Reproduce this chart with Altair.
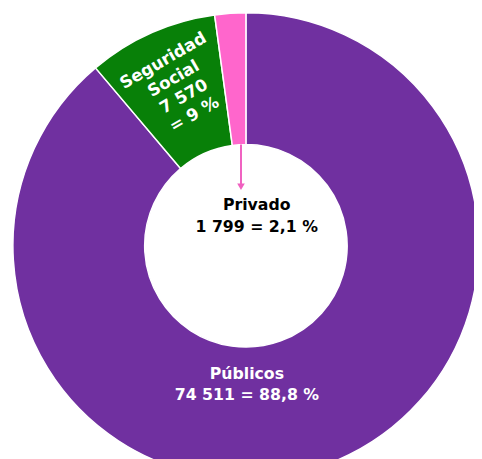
import altair as alt
import pandas as pd

categories = ["Públicos", "Seguridad Social", "Privado"]
values = [74511, 7570, 1799]
order = [1, 2, 3]
colors = ["#7030A0", "#088008", "#FF66CC"]

df = pd.DataFrame({"cat": categories, "val": values, "ord": order})

CX, CY = 242, 238

arc = alt.Chart(df).mark_arc(
    innerRadius=103, outerRadius=237, stroke="white", strokeWidth=1.5
).encode(
    theta=alt.Theta("val:Q", stack=True),
    order=alt.Order("ord:Q"),
    color=alt.Color("cat:N", scale=alt.Scale(domain=categories, range=colors), legend=None),
    x=alt.value(CX),
    y=alt.value(CY),
)

font = "DejaVu Sans"

ss_label = alt.Chart(pd.DataFrame({"t": [["Seguridad", "Social", "7 570", "= 9 %"]]})).mark_text(
    font=font, fontWeight="bold", fontSize=17, color="white", angle=330,
    lineHeight=21, align="center", baseline="middle"
).encode(text="t", x=alt.value(158), y=alt.value(50))

priv_label = alt.Chart(pd.DataFrame({"t": [["Privado", "1 799 = 2,1 %"]]})).mark_text(
    font=font, fontWeight="bold", fontSize=16, color="black",
    lineHeight=22, align="center", baseline="middle"
).encode(text="t", x=alt.value(253), y=alt.value(197))

pub_label = alt.Chart(pd.DataFrame({"t": [["Públicos", "74 511 = 88,8 %"]]})).mark_text(
    font=font, fontWeight="bold", fontSize=16, color="white",
    lineHeight=21, align="center", baseline="middle"
).encode(text="t", x=alt.value(243), y=alt.value(369))

arrow_line = alt.Chart(pd.DataFrame({"a": [0]})).mark_rule(
    color="#F060C0", strokeWidth=2
).encode(x=alt.value(237), y=alt.value(135), y2=alt.value(176))

arrow_head = alt.Chart(pd.DataFrame({"a": [0]})).mark_point(
    shape="triangle-down", filled=True, color="#F060C0", size=60, opacity=1
).encode(x=alt.value(237), y=alt.value(178))

chart = alt.layer(arc, ss_label, priv_label, pub_label, arrow_line, arrow_head).properties(
    width=474, height=451, padding=0,
    autosize=alt.AutoSizeParams(type="none"),
).configure_view(stroke=None)

chart.save("out.html", embed_options={"renderer": "svg", "actions": False})
